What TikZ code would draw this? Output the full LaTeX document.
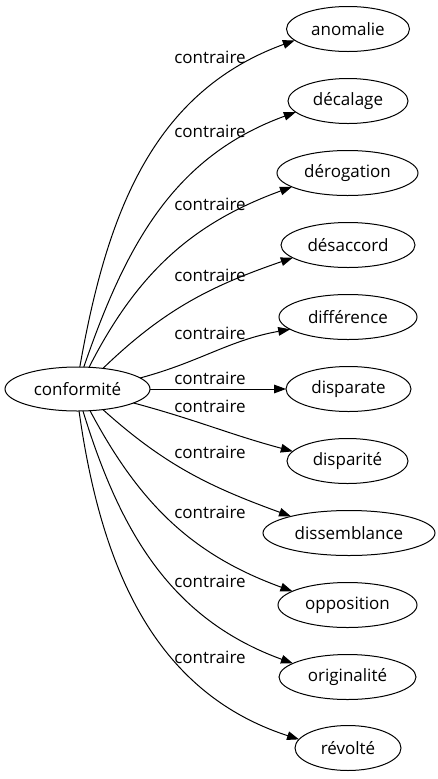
\documentclass[tikz,border=0pt]{standalone}
\usepackage{fontspec}
\setmainfont{Open Sans}
\usetikzlibrary{arrows.meta,shapes.geometric}
\begin{document}
\begin{tikzpicture}[x=0.75pt,y=0.75pt,
  lab/.style={font=\fontsize{12.75pt}{15pt}\selectfont, inner sep=0pt},
  ell/.style={draw, ellipse, line width=0.75pt, inner sep=0pt, outer sep=0pt,
    minimum height=33.75pt, font=\fontsize{12.75pt}{15pt}\selectfont},
  edge/.style={line width=0.75pt, -{Triangle[length=9pt,width=6.5pt]}},
]
\useasboundingbox (0,0) rectangle (437,-779);
\node[ell, minimum width=108.75pt, minimum height=33pt] (conf) at (77.5,-389) {conformité};
\node[ell, minimum width=92.25pt]  (n1)  at (348,-29)    {anomalie};
\node[ell, minimum width=90pt]     (n2)  at (348,-101)   {décalage};
\node[ell, minimum width=105.75pt] (n3)  at (347.5,-173) {dérogation};
\node[ell, minimum width=100.5pt]  (n4)  at (348,-245)   {désaccord};
\node[ell, minimum width=103.5pt]  (n5)  at (348,-317)   {différence};
\node[ell, minimum width=93.75pt]  (n6)  at (348.5,-389) {disparate};
\node[ell, minimum width=90.75pt]  (n7)  at (347.5,-461) {disparité};
\node[ell, minimum width=129pt]    (n8)  at (349,-533)   {dissemblance};
\node[ell, minimum width=104.25pt] (n9)  at (347.5,-605) {opposition};
\node[ell, minimum width=102.75pt] (n10) at (347.5,-677) {originalité};
\node[ell, minimum width=79.5pt]   (n11) at (348,-748)   {révolté};

\draw[edge] (conf.84)  to[out=80,in=200]  (n1.192);
\draw[edge] (conf.74)  to[out=71,in=200]  (n2.192);
\draw[edge] (conf.62)  to[out=63,in=200]  (n3.194);
\draw[edge] (conf.39)  to[out=44,in=199]  (n4.193);
\draw[edge] (conf.10)  to[out=15,in=190]  (n5.192);
\draw[edge] (conf.0)   -- (n6.180);
\draw[edge] (conf.-14) to[out=-15,in=165] (n7.170);
\draw[edge] (conf.-39) to[out=-42,in=160] (n8.164);
\draw[edge] (conf.-60) to[out=-62,in=160] (n9.166);
\draw[edge] (conf.-76) to[out=-73,in=160] (n10.166);
\draw[edge] (conf.-86) to[out=-82,in=162] (n11.170);

\node[lab] (l1)  at (210,-57)  {contraire};
\node[lab] (l2)  at (210,-131) {contraire};
\node[lab] (l3)  at (210,-204) {contraire};
\node[lab] (l4)  at (210,-275) {contraire};
\node[lab] (l5)  at (210,-333) {contraire};
\node[lab] (l6)  at (210,-378) {contraire};
\node[lab] (l7)  at (210,-406) {contraire};
\node[lab] (l8)  at (210,-452) {contraire};
\node[lab] (l9)  at (210,-512) {contraire};
\node[lab] (l10) at (210,-581) {contraire};
\node[lab] (l11) at (210,-657) {contraire};
\end{tikzpicture}
\end{document}
